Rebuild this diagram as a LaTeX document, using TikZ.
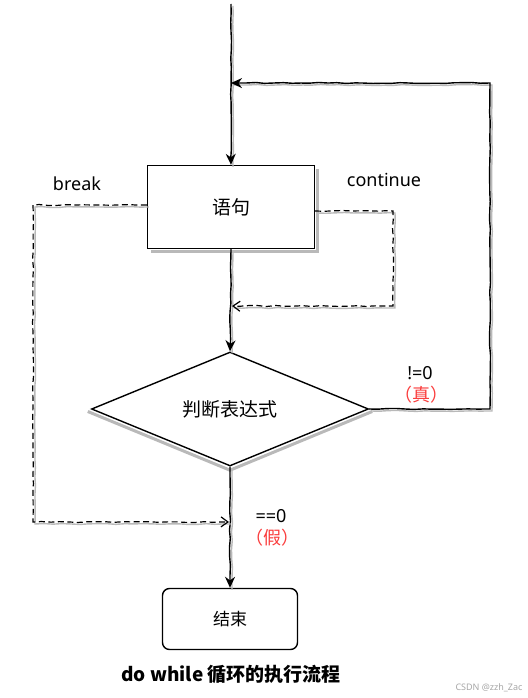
\documentclass[tikz,border=0pt]{standalone}
\usepackage{fontspec}
\setmainfont{Noto Sans}
\newfontfamily\cjk{Noto Sans CJK SC}
\usepackage{tikz}
\usetikzlibrary{shapes,arrows,positioning}
\usetikzlibrary{arrows.meta}
\usetikzlibrary{shapes.geometric,decorations.pathmorphing,calc}
\definecolor{labelred}{RGB}{250,60,60}
\definecolor{shadowgray}{RGB}{185,185,185}

\begin{document}
\pgfmathsetseed{7}
\begin{tikzpicture}[
      x=1pt,y=-1pt,
      sketch/.style={
         decorate,
         decoration={random steps,segment length=9pt,amplitude=0.5pt},
         line width=1.4pt},
      edgeshadow/.style={draw=shadowgray,line width=3pt,line join=miter},
      stmtbox/.style={
         rectangle,
         draw=black,
         fill=white,
         line width=1.4pt,
         minimum width=167pt,
         minimum height=83pt,
         font=\fontsize{19}{22}\selectfont\cjk},
      decision/.style={
         diamond,
         draw=black,
         fill=white,
         line width=1.4pt,
         inner sep=0pt,
         minimum width=277pt,
         minimum height=114pt,
         font=\fontsize{19}{22}\selectfont\cjk},
      endbox/.style={
         rectangle,
         rounded corners=7pt,
         draw=black,
         fill=white,
         line width=1.4pt,
         minimum width=135pt,
         minimum height=61pt,
         font=\fontsize{17}{20}\selectfont\cjk},
      lineshadow/.style={
         preaction={draw=shadowgray,-,line width=1.4pt,
            transform canvas={shift={(2pt,-2pt)}}}},
      flow/.style={sketch,lineshadow,-{Stealth[length=11pt,width=10pt]}},
      jump/.style={sketch,lineshadow,dashed,dash pattern=on 6pt off 3.5pt,
         line width=1.2pt,-{Straight Barb[length=7pt,width=10pt]}},
      lbl/.style={font=\fontsize{18}{21}\selectfont},
      redlbl/.style={font=\fontsize{18}{21}\selectfont\cjk,text=labelred}
      ]
      \useasboundingbox (0,0) rectangle (527,698);

      % main nodes
      \node[stmtbox] (stmt) at (231,207) {语句};
      \node[decision] (cond) at (230,409) {判断表达式};
      \node[endbox] (end) at (230,619) {结束};

      % shadows along the lower right edges
      \draw[edgeshadow] ([shift={(2.5,4)}]stmt.north east)
         -- ([shift={(2.5,2.5)}]stmt.south east) -- ([shift={(4,2.5)}]stmt.south west);
      \draw[edgeshadow] ([shift={(3,2.5)}]cond.east)
         -- ([shift={(0,3.5)}]cond.south) -- ([shift={(-3,2.5)}]cond.west);

      % corner and junction points
      \coordinate (start) at (231,4);
      \coordinate (loopin) at (231,83);
      \coordinate (loopcorner) at (490,83);
      \coordinate (contcorner) at (393,306);
      \coordinate (contin) at (232,306);
      \coordinate (breakcorner) at (33,522);
      \coordinate (breakin) at (229,522);

      % straight flow
      \foreach \i/\j in {start/stmt.north, stmt.south/cond.north, cond.south/end.north}
         \draw[flow] (\i) -- (\j);

      % loop back when true
      \draw[flow] (cond.east) -| (loopcorner) -- (loopin);

      % continue and break
      \draw[jump] ([yshift=-4pt]stmt.east) -| (contcorner) -- (contin);
      \draw[jump] ([yshift=2pt]stmt.west) -| (breakcorner) -- (breakin);

      % labels
      \node[lbl] (brk) at (77,184) {break};
      \node[lbl] (cnt) at (384,180) {continue};
      \node[lbl] (ne) at (420,373) {!=0};
      \node[redlbl] (tru) at (421,395) {（真）};
      \node[lbl] (eq) at (271,516) {==0};
      \node[redlbl] (fls) at (272,538) {（假）};
      \node[font=\fontsize{19}{22}\selectfont\cjk\bfseries] (title) at (231,674)
         {do while 循环的执行流程};
      \node[font=\fontsize{9}{11}\selectfont,text=gray!70] (mark) at (489,688)
         {CSDN @zzh\_Zac};
\end{tikzpicture}
\end{document}
